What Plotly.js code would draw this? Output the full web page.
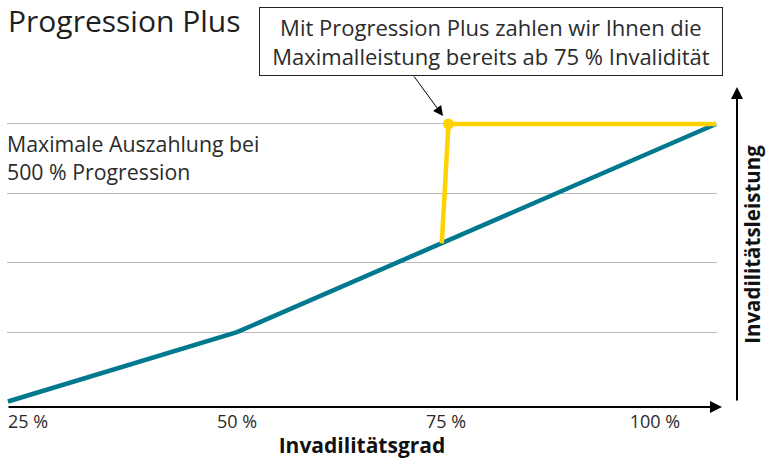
<!DOCTYPE html>
<html>
<head>
<meta charset="utf-8">
<script src="https://cdn.plot.ly/plotly-3.0.1.min.js"></script>
<style>html,body{margin:0;padding:0;background:#fff;}#chart{width:769px;height:459px;}</style>
</head>
<body>
<div id="chart"></div>
<script>
// Data
const xTickVals = [25, 50, 75, 100];
const xTickText = ['25 %', '50 %', '75 %', '100 %'];
const gridVals = [1, 2, 3, 4];
const standardX = [22.6, 50, 107.3];
const standardY = [0, 1, 4];
const plusX = [74.5, 75.3, 107.3];
const plusY = [2.28, 4, 4];
const dotX = [75.3];
const dotY = [4];

const TEAL = '#00798F';
const YELLOW = '#FFD200';
const TXT = '#2b2b2b';
const FONT = '"Open Sans", Lato, sans-serif';

const W = 769, H = 459, L = 7, R = 52, T = 80, B = 50;
const PW = W - L - R, PH = H - T - B;
const px = v => (v - L) / PW;
const py = v => (H - B - v) / PH;

const traces = [
  {x: standardX, y: standardY, mode: 'lines', line: {color: TEAL, width: 4.5}, hoverinfo: 'skip', cliponaxis: false},
  {x: plusX, y: plusY, mode: 'lines', line: {color: YELLOW, width: 4.5}, hoverinfo: 'skip', cliponaxis: false},
  {x: dotX, y: dotY, mode: 'markers', marker: {color: YELLOW, size: 11}, hoverinfo: 'skip', cliponaxis: false}
];

const layout = {
  width: W, height: H,
  margin: {l: L, r: R, t: T, b: B},
  paper_bgcolor: '#fff', plot_bgcolor: '#fff',
  showlegend: false,
  font: {family: FONT, color: TXT, size: 18},
  title: {text: 'Progression Plus', font: {family: '"Open Sans", sans-serif', size: 30, color: '#1e1e1e'},
          x: 8 / W, xanchor: 'left', xref: 'container', y: 1 - 32 / H, yanchor: 'bottom', yref: 'container', pad: {l: 0, b: 0, t: 0}},
  xaxis: {range: [22.49, 107.42], tickvals: xTickVals, ticktext: xTickText, showgrid: false, zeroline: false,
          showline: false, ticks: '', tickfont: {size: 18, color: TXT}, fixedrange: true,
          title: {text: '<b>Invadilitätsgrad</b>', font: {size: 21, color: '#111'}, standoff: 8}},
  yaxis: {range: [-0.108, 4.634], tickvals: gridVals, showticklabels: false, showgrid: true, gridcolor: '#b8b8b8', gridwidth: 1,
          zeroline: false, showline: false, ticks: '', side: 'right', fixedrange: true,
          title: {text: '<b>Invadilitätsleistung</b>', font: {size: 20.5, color: '#111'}, standoff: 28}},
  annotations: [
    {xref: 'paper', yref: 'paper', x: px(722), y: py(407), ax: -715, ay: 0, text: '', showarrow: true,
     arrowhead: 2, arrowsize: 1.2, arrowwidth: 2, arrowcolor: '#000', standoff: 0},
    {xref: 'paper', yref: 'paper', x: px(737), y: py(87), ax: 0, ay: 315, text: '', showarrow: true,
     arrowhead: 2, arrowsize: 1.2, arrowwidth: 2, arrowcolor: '#000', standoff: 0},
    {xref: 'paper', yref: 'paper', x: px(443), y: py(116), ax: -30, ay: -41, text: '', showarrow: true,
     arrowhead: 2, arrowsize: 2, arrowwidth: 1, arrowcolor: '#000', standoff: 0},
    {xref: 'paper', yref: 'paper', x: px(491), y: py(41.5), xanchor: 'center', yanchor: 'middle', showarrow: false,
     text: 'Mit Progression Plus zahlen wir Ihnen die<br>Maximalleistung bereits ab 75 % Invalidität',
     font: {size: 22, color: TXT}, align: 'center', bordercolor: '#222', borderwidth: 1, borderpad: 3,
     bgcolor: '#fff', width: 456, height: 61},
    {xref: 'paper', yref: 'paper', x: px(5), y: py(157), xanchor: 'left', yanchor: 'middle', showarrow: false,
     text: 'Maximale Auszahlung bei<br>500 % Progression', font: {size: 21.3, color: TXT}, align: 'left'}
  ]
};

Plotly.newPlot('chart', traces, layout, {displayModeBar: false, staticPlot: true});
</script>
</body>
</html>
